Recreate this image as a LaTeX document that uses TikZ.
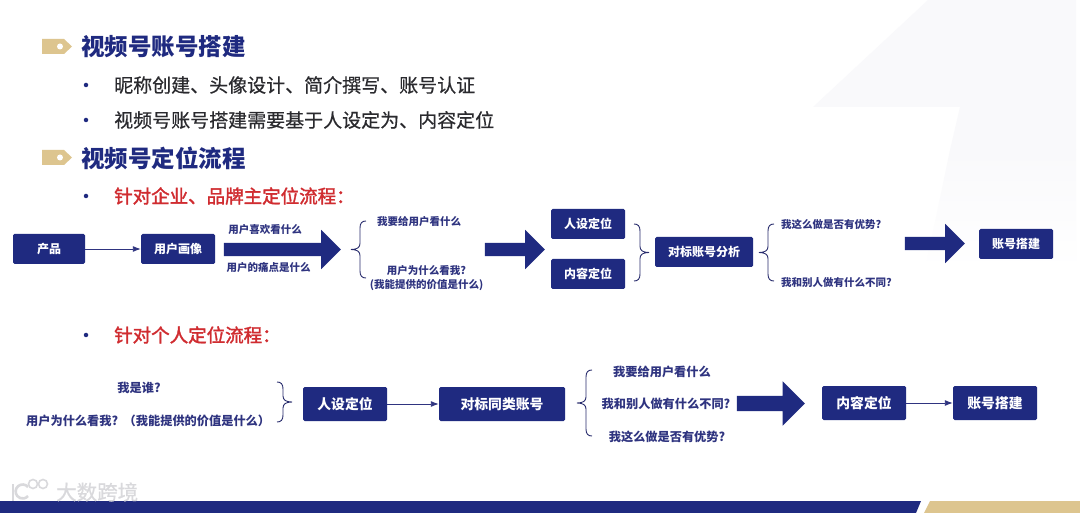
\documentclass[tikz,border=0pt]{standalone}
\usepackage{fontspec}
\setmainfont{Noto Sans CJK SC}
\newfontfamily\medio[FakeBold=0.5]{Noto Sans CJK SC}
\newfontfamily\seminegra[FakeBold=1.8]{Noto Sans CJK SC}
\usetikzlibrary{positioning, arrows.meta, shapes.arrows}
\definecolor{marino}{HTML}{1F2A80}
\definecolor{tinta}{HTML}{2F3480}
\definecolor{cuerpo}{HTML}{2A2A2E}
\definecolor{rojo}{HTML}{D02C30}
\definecolor{dorado}{HTML}{DDC58F}
\definecolor{palido}{HTML}{F9F9FB}
\definecolor{sello}{HTML}{D9D9DC}
\newcommand{\fsize}[1]{\fontsize{#1}{#1}\selectfont}
% barra, arriba, abajo, sentido
\newcommand{\llave}[4]{%
	\begin{scope}[shift={(#1,0)}, xscale=#4]
		\draw[llaveTrazo] (6,#2) .. controls (2,#2) and (0,#2+2) .. (0,#2+7)
			-- (0,#2/2+#3/2-6) .. controls (0,#2/2+#3/2-2) and (-3,#2/2+#3/2) .. (-9,#2/2+#3/2)
			.. controls (-3,#2/2+#3/2) and (0,#2/2+#3/2+2) .. (0,#2/2+#3/2+6)
			-- (0,#3-7) .. controls (0,#3-2) and (2,#3) .. (6,#3);
	\end{scope}}
\tikzset{
	titulo/.style={anchor=west, inner sep=0pt, text=marino, font=\fsize{23.5}\bfseries},
	linea/.style={anchor=west, inner sep=0pt, text=cuerpo, font=\fsize{19}\medio},
	lineaRoja/.style={anchor=west, inner sep=0pt, text=rojo, font=\fsize{18.5}\seminegra},
	vineta/.style={circle, fill=marino, inner sep=0pt, minimum size=4.5pt},
	caja/.style={fill=marino, rounded corners=1.5pt, text=white, inner sep=0pt, minimum width=74pt, minimum height=30pt, font=\fsize{12}\bfseries},
	cajaGrande/.style={caja, minimum width=84pt, minimum height=34pt, font=\fsize{13.8}\bfseries},
	nota/.style={inner sep=0pt, text=tinta, font=\fsize{10.5}\bfseries, align=center},
	notaGrande/.style={nota, font=\fsize{12.2}\bfseries},
	flecha/.style={draw=tinta, line width=0.9pt, -{Latex[length=8pt,width=6pt]}},
	flechaGorda/.style={single arrow, fill=marino, inner xsep=0pt, inner ysep=6.5pt, minimum width=39pt, single arrow head extend=13pt, single arrow tip angle=90, anchor=center},
	llaveTrazo/.style={draw=tinta!85!black, line width=0.9pt},
}
\begin{document}
\begin{tikzpicture}[x=1pt, y=-1pt]
	\useasboundingbox (0,0) rectangle (1080,513);
	\fill[white] (0,0) rectangle (1080,513);
	\fill[palido] (928,0) -- (813,107) -- (960,107) -- (950,150) -- (1076,150) -- (1076,0) -- cycle;
	\shade[top color=palido, bottom color=white] (950,150) -- (925,270) -- (1076,270) -- (1076,150) -- cycle;

	% cabecera
	\fill[dorado] (42,39) -- (64,39) -- (72,46.5) -- (64,54) -- (42,54) -- cycle;
	\fill[white] (60,46.5) circle (3pt);
	\node[titulo] (titulo1) at (81,47) {视频号账号搭建};
	\node[vineta] (v1) at (86,85) {};
	\node[linea] (l1) at (114,85) {昵称创建、头像设计、简介撰写、账号认证};
	\node[vineta] (v2) at (86,120) {};
	\node[linea] (l2) at (114,120) {视频号账号搭建需要基于人设定为、内容定位};
	\fill[dorado] (42,150) -- (64,150) -- (72,157.5) -- (64,165) -- (42,165) -- cycle;
	\fill[white] (60,157.5) circle (3pt);
	\node[titulo] (titulo2) at (81,158) {视频号定位流程};
	\node[vineta] (v3) at (86,196) {};
	\node[lineaRoja] (l3) at (114,196) {针对企业、品牌主定位流程：};

	% primer flujo
	\node[caja, minimum width=72pt] (producto) at (49,249) {产品};
	\node[caja] (perfil) at (178,249) {用户画像};
	\draw[flecha] (producto) -- (perfil);
	\node[flechaGorda, minimum height=117pt] (gorda1) at (279,249.5) {};
	\node[nota] (n1) at (265,230) {用户喜欢看什么};
	\node[nota] (n2) at (268.5,267) {用户的痛点是什么};
	\llave{360}{221}{278}{1}
	\node[nota] (n3) at (419,222) {我要给用户看什么};
	\node[nota] (n4) at (426.5,278) {用户为什么看我?\\[3.5pt](我能提供的价值是什么)};
	\node[flechaGorda, minimum height=60pt] (gorda2) at (511.5,249.5) {};
	\node[caja] (persona) at (588,224) {人设定位};
	\node[caja] (contenido) at (588,274) {内容定位};
	\llave{640}{224}{281}{-1}
	\node[caja, minimum width=98pt] (analisis) at (704,252) {对标账号分析};
	\llave{768}{224}{281}{1}
	\node[nota, anchor=west] (n5) at (781,224) {我这么做是否有优势?};
	\node[nota, anchor=west] (n6) at (781,283) {我和别人做有什么不同?};
	\node[flechaGorda, minimum height=60pt] (gorda3) at (931.5,243.5) {};
	\node[caja] (cuenta) at (1016,244) {账号搭建};

	% segundo flujo
	\node[vineta] (v4) at (86,335) {};
	\node[lineaRoja] (l4) at (114,335) {针对个人定位流程：};
	\node[notaGrande] (m1) at (139,388) {我是谁?};
	\node[notaGrande, anchor=west] (m2) at (26,421) {用户为什么看我?\ \ （我能提供的价值是什么）};
	\llave{283}{382}{422}{-1}
	\node[cajaGrande] (persona2) at (345,404) {人设定位};
	\node[cajaGrande, minimum width=126pt] (similares) at (502,404) {对标同类账号};
	\draw[flecha] (persona2) -- (similares);
	\llave{586}{370}{436}{1}
	\node[notaGrande] (m3) at (662,372) {我要给用户看什么};
	\node[notaGrande] (m4) at (666,404) {我和别人做有什么不同?};
	\node[notaGrande] (m5) at (667,437) {我这么做是否有优势?};
	\node[flechaGorda, minimum height=68pt, minimum width=44pt, inner ysep=7.5pt, single arrow head extend=14.5pt] (gorda4) at (767,403.5) {};
	\node[cajaGrande] (contenido2) at (864,403) {内容定位};
	\node[cajaGrande] (cuenta2) at (995,403) {账号搭建};
	\draw[flecha] (contenido2) -- (cuenta2);

	% pie
	\fill[marino] (0,501) -- (921,501) -- (916,513) -- (0,513) -- cycle;
	\fill[dorado] (930,501) -- (1080,501) -- (1080,513) -- (924,513) -- cycle;

	% sello
	\draw[draw=sello, line width=2.6pt] (13,484) -- (13,501);
	\draw[draw=sello, line width=2.6pt] (28,487) arc (40:320:7pt);
	\draw[draw=sello, line width=1.6pt] (33,484) circle (4.5pt) (43,484) circle (4.5pt);
	\node[anchor=west, inner sep=0pt, text=sello, font=\fsize{20.5}\medio] (sello) at (56,492) {大数跨境};
\end{tikzpicture}
\end{document}
